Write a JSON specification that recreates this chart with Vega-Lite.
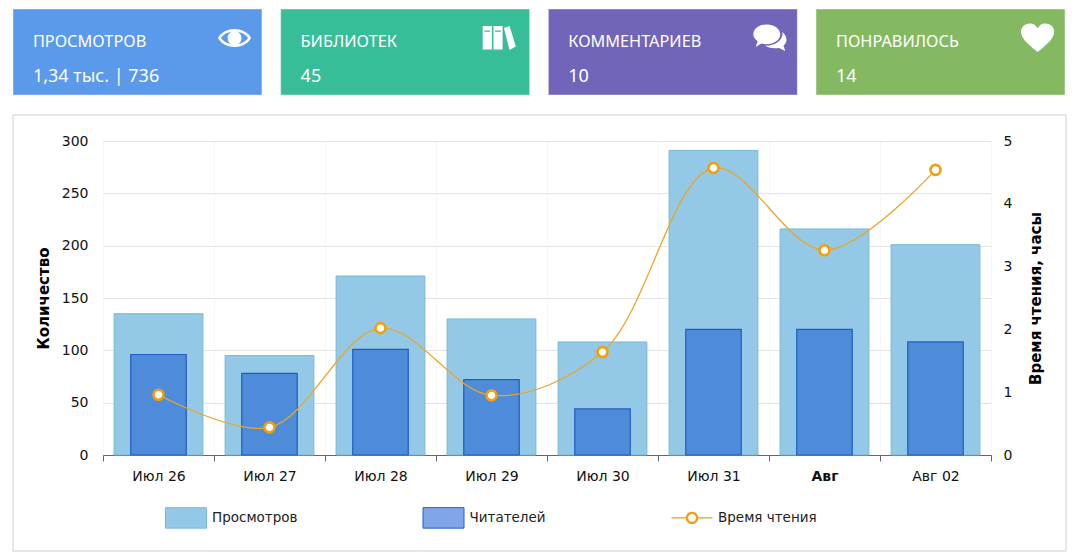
{
  "$schema": "https://vega.github.io/schema/vega-lite/v6.json",
  "width": 888,
  "height": 314,
  "autosize": "none",
  "padding": {"left": 103, "top": 141, "right": 81, "bottom": 102},
  "background": "#ffffff",
  "config": {"view": {"stroke": null}, "font": "DejaVu Sans"},
  "datasets": {
    "days": [
      {"day": "Июл 26", "views": 135, "readers": 96, "hours": 0.96},
      {"day": "Июл 27", "views": 95, "readers": 78, "hours": 0.44},
      {"day": "Июл 28", "views": 171, "readers": 101, "hours": 2.02},
      {"day": "Июл 29", "views": 130, "readers": 72, "hours": 0.95},
      {"day": "Июл 30", "views": 108, "readers": 44, "hours": 1.64},
      {"day": "Июл 31", "views": 291, "readers": 120, "hours": 4.57},
      {"day": "Авг", "views": 216, "readers": 120, "hours": 3.26},
      {"day": "Авг 02", "views": 201, "readers": 108, "hours": 4.54}
    ],
    "cards": [
      {"card": "ПРОСМОТРОВ", "value": "1,34 тыс. | 736", "icon": "eye"},
      {"card": "БИБЛИОТЕК", "value": "45", "icon": "books"},
      {"card": "КОММЕНТАРИЕВ", "value": "10", "icon": "chat"},
      {"card": "ПОНРАВИЛОСЬ", "value": "14", "icon": "heart"}
    ],
    "series": [
      {"series": "Просмотров"},
      {"series": "Читателей"},
      {"series": "Время чтения"}
    ]
  },
  "layer": [
    {
      "data": {"values": [{"panel": "chart"}]},
      "mark": {"type": "rect", "fill": null, "stroke": "#d0d0d0", "strokeWidth": 1},
      "encoding": {
        "x": {"datum": 0, "type": "quantitative", "axis": null, "scale": {"domain": [0, 1], "range": [-90, 963]}},
        "x2": {"datum": 1},
        "y": {"datum": 0, "type": "quantitative", "axis": null, "scale": {"domain": [0, 1], "range": [-26, 410]}},
        "y2": {"datum": 1}
      }
    },
    {
      "data": {"name": "cards"},
      "encoding": {
        "x": {
          "field": "card",
          "type": "nominal",
          "sort": null,
          "axis": null,
          "scale": {"type": "band", "range": [-90, 962], "paddingInner": 0.07, "paddingOuter": 0}
        },
        "y": {"datum": 0, "type": "quantitative", "axis": null, "scale": {"domain": [0, 1], "range": [-132, -46]}}
      },
      "layer": [
        {
          "mark": {"type": "bar", "width": {"band": 1}, "stroke": "#ffffff", "strokeOpacity": 0.4, "strokeWidth": 1},
          "encoding": {
            "y2": {"datum": 1},
            "color": {
              "field": "card",
              "type": "nominal",
              "sort": null,
              "legend": null,
              "scale": {"range": ["#5b9aea", "#37bd98", "#7165b9", "#84b962"]}
            }
          }
        },
        {
          "mark": {"type": "text", "align": "left", "baseline": "middle", "color": "#ffffff", "font": "Noto Sans", "fontSize": 16.3},
          "encoding": {
            "x": {"field": "card", "type": "nominal", "sort": null, "axis": null, "bandPosition": 0.08},
            "y": {"datum": 0.385, "type": "quantitative", "axis": null},
            "text": {"field": "card"}
          }
        },
        {
          "mark": {"type": "text", "align": "left", "baseline": "middle", "color": "#ffffff", "font": "Noto Sans", "fontSize": 18},
          "encoding": {
            "x": {"field": "card", "type": "nominal", "sort": null, "axis": null, "bandPosition": 0.08},
            "y": {"datum": 0.785, "type": "quantitative", "axis": null},
            "text": {"field": "value"}
          }
        },
        {
          "mark": {"type": "point", "filled": true, "color": "#ffffff", "opacity": 1, "size": 1100},
          "encoding": {
            "x": {"field": "card", "type": "nominal", "sort": null, "axis": null, "bandPosition": 0.89},
            "y": {"datum": 0.337, "type": "quantitative", "axis": null},
            "shape": {
              "field": "icon",
              "type": "nominal",
              "legend": null,
              "scale": {
                "domain": ["eye", "books", "chat", "heart"],
                "range": [
                  "M-1 0C-.6 -.72 .6 -.72 1 0C.6 .72 -.6 .72 -1 0ZM-.82 0C-.45 .52 .45 .52 .82 0C.45 -.52 -.45 -.52 -.82 0ZM-.42 0C-.42 -.55 .42 -.55 .42 0C.42 .55 -.42 .55 -.42 0Z",
                  "M-1.18 -.72H-.63V.7H-1.18ZM-1.08 -.45V-.38H-.73V-.45ZM-.53 -.72H.02V.7H-.53ZM-.43 -.45V-.38H-.08V-.45ZM.1 -.6L.44 -.72L.82 .52L.44 .72Z",
                  "M-.2 -.82C.3 -.82 .62 -.55 .62 -.22C.62 .12 .25 .38 -.2 .38C-.32 .38 -.42 .36 -.52 .34L-.86 .55L-.74 .2C-.9 .08 -1 -.06 -1 -.22C-1 -.55 -.65 -.82 -.2 -.82ZM.74 -.36C.92 -.22 1 -.06 1 .1C1 .25 .92 .36 .82 .46L.92 .78L.55 .6C.2 .66 -.15 .58 -.3 .46C.3 .5 .85 .12 .74 -.36Z",
                  "M0 .85C-.3 .58 -1 .12 -1 -.36C-1 -.72 -.72 -.88 -.46 -.88C-.25 -.88 -.1 -.76 0 -.58C.1 -.76 .25 -.88 .46 -.88C.72 -.88 1 -.72 1 -.36C1 .12 .3 .58 0 .85Z"
                ]
              }
            }
          }
        }
      ]
    },
    {
      "data": {"name": "days"},
      "encoding": {
        "x": {
          "field": "day",
          "type": "nominal",
          "sort": null,
          "title": null,
          "scale": {"type": "band", "padding": 0},
          "axis": {
            "labelAngle": 0,
            "labelFontSize": 14,
            "labelColor": "#111111",
            "labelPadding": 8,
            "labelFontWeight": {"condition": {"test": "datum.label == 'Авг'", "value": "bold"}, "value": "normal"},
            "domainColor": "#666666",
            "tickColor": "#666666",
            "tickSize": 6,
            "tickBand": "extent",
            "grid": true,
            "gridColor": "#eeeeee",
            "gridDash": [2, 2]
          }
        }
      },
      "layer": [
        {
          "encoding": {
            "y": {
              "type": "quantitative",
              "scale": {"domain": [0, 300], "nice": false},
              "axis": {
                "values": [0, 50, 100, 150, 200, 250, 300],
                "title": "Количество",
                "titleFontSize": 15,
                "titleFontWeight": "bold",
                "titleColor": "#000000",
                "titlePadding": 10,
                "labelFontSize": 14,
                "labelColor": "#111111",
                "labelPadding": 15,
                "domain": false,
                "ticks": false,
                "grid": true,
                "gridColor": "#e4e4e4"
              }
            }
          },
          "layer": [
            {
              "mark": {"type": "bar", "width": {"band": 0.8}, "fill": "#93c9e6", "stroke": "#78b9d8", "strokeWidth": 1},
              "encoding": {"y": {"field": "views", "type": "quantitative"}}
            },
            {
              "mark": {"type": "bar", "width": {"band": 0.5}, "fill": "#1155d0", "fillOpacity": 0.53, "stroke": "#1f5cc6", "strokeWidth": 1.2},
              "encoding": {"y": {"field": "readers", "type": "quantitative"}}
            }
          ]
        },
        {
          "encoding": {
            "y": {
              "field": "hours",
              "type": "quantitative",
              "scale": {"domain": [0, 5], "nice": false},
              "axis": {
                "orient": "right",
                "values": [0, 1, 2, 3, 4, 5],
                "title": "Время чтения, часы",
                "titleFontSize": 15,
                "titleFontWeight": "bold",
                "titleColor": "#000000",
                "titleAngle": -90,
                "titlePadding": 32,
                "labelFontSize": 14,
                "labelColor": "#111111",
                "labelPadding": 12,
                "domain": false,
                "ticks": false,
                "grid": false
              }
            }
          },
          "layer": [
            {
              "mark": {"type": "line", "interpolate": "catmull-rom", "color": "#eba52a", "strokeWidth": 1.3}
            },
            {
              "mark": {"type": "point", "filled": true, "fill": "#ffffff", "stroke": "#f59e0b", "strokeWidth": 2.6, "opacity": 1, "size": 100}
            }
          ]
        }
      ],
      "resolve": {"scale": {"y": "independent"}}
    },
    {
      "data": {"name": "series"},
      "mark": {"type": "point", "filled": true, "opacity": 0},
      "encoding": {
        "fill": {
          "field": "series",
          "type": "nominal",
          "sort": null,
          "scale": {
            "domain": ["Просмотров", "Читателей", "Время чтения"],
            "range": ["#93c9e6", "#80a5e8", "#f59e0b"]
          },
          "legend": {
            "title": null,
            "orient": "none",
            "legendX": 62,
            "legendY": 355.5,
            "direction": "horizontal",
            "columns": 3,
            "columnPadding": 122.5,
            "symbolSize": 1681,
            "symbolOpacity": 1,
            "symbolStrokeWidth": 1,
            "labelFontSize": 13.5,
            "labelColor": "#222222",
            "labelOffset": 5,
            "encode": {
              "symbols": {
                "update": {
                  "stroke": {"signal": "datum.value === 'Просмотров' ? '#78b9d8' : datum.value === 'Читателей' ? '#2261cc' : 'transparent'"}
                }
              }
            }
          }
        },
        "shape": {
          "field": "series",
          "type": "nominal",
          "sort": null,
          "scale": {
            "domain": ["Просмотров", "Читателей", "Время чтения"],
            "range": [
              "M-1 -.5H1V.5H-1Z",
              "M-1 -.5H1V.5H-1Z",
              "M0 -.5h.001v.001zM0 .5h.001v-.001zM-1 -.03H-.3V.03H-1ZM.3 -.03H1V.03H.3ZM-.3 0C-.3 -.4 .3 -.4 .3 0C.3 .4 -.3 .4 -.3 0ZM-.19 0C-.19 .25 .19 .25 .19 0C.19 -.25 -.19 -.25 -.19 0Z"
            ]
          }
        }
      }
    }
  ],
  "resolve": {"scale": {"x": "independent", "y": "independent", "shape": "independent", "color": "independent", "fill": "independent", "stroke": "independent"}}
}
